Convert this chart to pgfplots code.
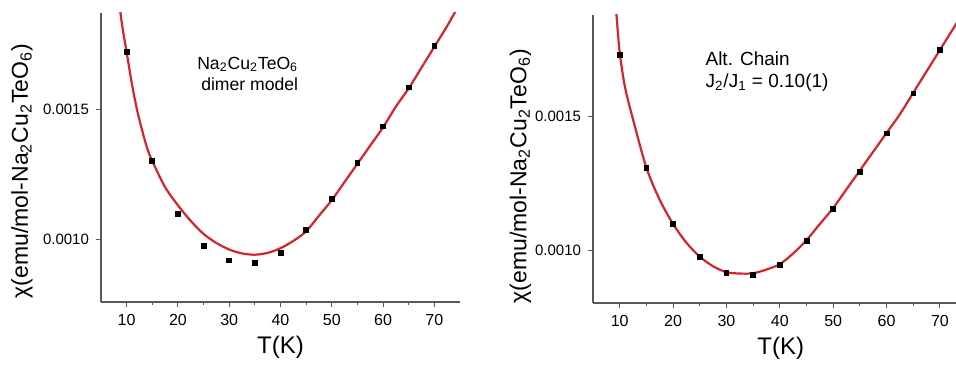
\documentclass[border=0pt]{standalone}
\usepackage{fontspec}
\setmainfont{Liberation Sans}
\usepackage{pgfplots}
\pgfplotsset{compat=1.18}
\definecolor{fitred}{RGB}{212,36,44}
\pgfplotsset{
  panel/.style={
    scale only axis,
    axis x line=bottom, axis y line=left,
    axis line style={-, black!65, line width=0.6pt},
    tick style={black!65, line width=0.5pt},
    tick align=outside,
    major tick length=2.5pt, minor tick length=1.5pt,
    xtick={10,20,...,70}, minor x tick num=1,
    ytick={0.0010,0.0015},
    scaled y ticks=false,
    /pgf/number format/assume math mode=true,
    yticklabel style={/pgf/number format/fixed,/pgf/number format/precision=4,/pgf/number format/fixed zerofill,font=\fontsize{7.5}{8}\selectfont},
    xticklabel style={font=\fontsize{8}{9}\selectfont},
    xlabel={T(K)}, xlabel style={font=\fontsize{12}{13}\selectfont},
    ylabel={χ(emu/mol-Na\textsubscript{2}Cu\textsubscript{2}TeO\textsubscript{6})},
    ylabel style={font=\fontsize{11.5}{12}\selectfont},
    clip mode=individual,
  },
  datapts/.style={only marks, mark=square*, mark size=1.2pt, black},
  fitline/.style={no marks, fitred, line width=1.1pt, smooth},
}
\begin{document}
\begin{tikzpicture}
\useasboundingbox (0,0) rectangle (478pt,182pt);
% ---------- left panel ----------
\begin{axis}[panel,
  at={(50.5pt,31pt)}, anchor=south west,
  width=179.5pt, height=144.5pt,
  xmin=5, xmax=75, ymin=0.000758, ymax=0.00187,
  xlabel style={at={(axis description cs:0.50,-0.155)},anchor=center},
  ylabel style={at={(axis description cs:-0.22,0.453)},anchor=center},
]
\addplot[fitline] coordinates {
 (8.4,0.00196) (8.8,0.00187) (9.3,0.00180) (10,0.00172) (11,0.00160) (12,0.00150)
 (13,0.00142) (14,0.00135) (15,0.00130) (17.5,0.00120) (20,0.00113) (22.5,0.00107)
 (25,0.00102) (27.5,0.000985) (30,0.000960) (32.5,0.000945) (35,0.000940)
 (37.5,0.000947) (40,0.000965) (42.5,0.000993) (45,0.00103) (47.5,0.00109)
 (50,0.00115) (52.5,0.00122) (55,0.00129) (57.5,0.00136) (60,0.00143)
 (62.5,0.00151) (65,0.00158) (67.5,0.00166) (70,0.00174) (72.5,0.00182) (74.5,0.00189)
};
\addplot[datapts] coordinates {
 (10,0.001720) (15,0.001302) (20,0.001096) (25,0.000975) (30,0.000918)
 (35,0.000908) (40,0.000946) (45,0.001036) (50,0.001155) (55,0.001293)
 (60,0.001434) (65,0.001584) (70,0.001742)
};
\node[anchor=north west, align=left, inner sep=0pt, font=\fontsize{8.8}{10.5}\selectfont]
  at (rel axis cs:0.267,0.85) {Na\textsubscript{2}Cu\textsubscript{2}TeO\textsubscript{6}\\\hspace*{2pt}dimer model};
\end{axis}
% ---------- right panel ----------
\begin{axis}[panel,
  at={(296.5pt,30.5pt)}, anchor=south west,
  width=181.5pt, height=144pt,
  xmin=5, xmax=73, ymin=0.000805, ymax=0.00188,
  xlabel style={at={(axis description cs:0.517,-0.157)},anchor=center},
  ylabel style={at={(axis description cs:-0.20,0.44)},anchor=center},
]
\addplot[fitline] coordinates {
 (9.1,0.00195) (9.4,0.00188) (10,0.00174) (11,0.00161) (12.5,0.00149) (15,0.00131)
 (17.5,0.00119) (20,0.00110) (22.5,0.00103) (25,0.000978) (27.5,0.000942)
 (30,0.000920) (32.5,0.000915) (35,0.000916) (37.5,0.000930) (40,0.000950)
 (42.5,0.000990) (45,0.00104) (47.5,0.00110) (50,0.00116) (52.5,0.00123)
 (55,0.00130) (57.5,0.00137) (60,0.00144) (62.5,0.00151) (65,0.00159)
 (67.5,0.00167) (70,0.00175) (72.5,0.00183) (75,0.00191)
};
\addplot[datapts] coordinates {
 (10,0.001730) (15,0.001308) (20,0.001099) (25,0.000978) (30,0.000918)
 (35,0.000909) (40,0.000947) (45,0.001037) (50,0.001156) (55,0.001295)
 (60,0.001438) (65,0.001587) (70,0.001749)
};
\node[anchor=north west, align=left, inner sep=0pt, font=\fontsize{9.5}{11}\selectfont]
  at (rel axis cs:0.309,0.875) {Alt. Chain\\J\textsubscript{2}/J\textsubscript{1} = 0.10(1)};
\end{axis}
\end{tikzpicture}
\end{document}
